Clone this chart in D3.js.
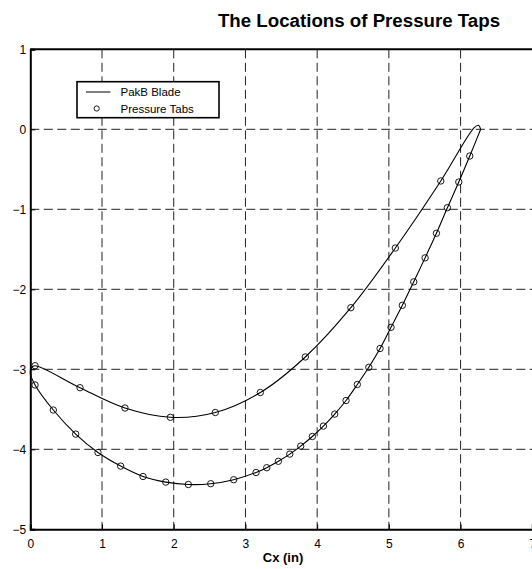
<!DOCTYPE html>
<html><head><meta charset="utf-8">
<script src="https://cdn.jsdelivr.net/npm/d3@7"></script>
<style>
html,body{margin:0;padding:0;background:#fff;overflow:hidden;}
svg{display:block;font-family:"Liberation Sans",Arial,Helvetica,sans-serif;}
</style></head>
<body><svg id="chart" width="532" height="569"></svg>
<script>
// ---- data ----
const title = "The Locations of Pressure Taps";
const xLabel = "Cx (in)";
const xTicks = [0, 1, 2, 3, 4, 5, 6, 7];
const yTicks = [1, 0, -1, -2, -3, -4, -5];
const legendLabels = ["PakB Blade", "Pressure Tabs"];

// blade profile (suction side TE->LE, then pressure side LE->TE)
const bladeX = [6.28, 6.25, 6.19, 5.724, 5.09, 4.47, 3.835, 3.208, 2.58, 1.953, 1.32, 0.693, 0.066, 0.015, 0.0,
  0.066, 0.321, 0.633, 0.944, 1.26, 1.572, 1.889, 2.204, 2.516, 2.836, 3.148, 3.297, 3.459, 3.618, 3.771, 3.933,
  4.087, 4.245, 4.403, 4.56, 4.72, 4.877, 5.03, 5.188, 5.347, 5.505, 5.663, 5.816, 5.975, 6.128, 6.28];
const bladeY = [0.0, 0.05, 0.02, -0.646, -1.484, -2.23, -2.846, -3.29, -3.54, -3.60, -3.484, -3.23, -2.955, -2.98, -3.05,
  -3.196, -3.509, -3.81, -4.04, -4.21, -4.34, -4.41, -4.44, -4.43, -4.38, -4.29, -4.23, -4.15, -4.06, -3.96, -3.84,
  -3.71, -3.56, -3.39, -3.19, -2.975, -2.74, -2.475, -2.2, -1.907, -1.607, -1.30, -0.98, -0.659, -0.334, 0.0];

// pressure tap locations
const tapUpperX = [0.066, 0.693, 1.32, 1.953, 2.58, 3.208, 3.835, 4.47, 5.09, 5.724];
const tapUpperY = [-2.955, -3.23, -3.484, -3.60, -3.54, -3.29, -2.846, -2.23, -1.484, -0.646];
const tapLowerX = [0.066, 0.321, 0.633, 0.944, 1.26, 1.572, 1.889, 2.204, 2.516, 2.836, 3.148, 3.297, 3.459, 3.618,
  3.771, 3.933, 4.087, 4.245, 4.403, 4.56, 4.72, 4.877, 5.03, 5.188, 5.347, 5.505, 5.663, 5.816, 5.975, 6.128];
const tapLowerY = [-3.196, -3.509, -3.81, -4.04, -4.21, -4.34, -4.41, -4.44, -4.43, -4.38, -4.29, -4.23, -4.15, -4.06,
  -3.96, -3.84, -3.71, -3.56, -3.39, -3.19, -2.975, -2.74, -2.475, -2.2, -1.907, -1.607, -1.30, -0.98, -0.659, -0.334];

// ---- layout ----
const svg = d3.select("#chart");
const L = 30.3, R = 532.3, T = 49.3, B = 529.3;
const x = d3.scaleLinear().domain([0, 7]).range([L, R]);
const y = d3.scaleLinear().domain([-5, 1]).range([B, T]);

// grid
const grid = svg.append("g").attr("stroke", "#222").attr("stroke-width", 1).attr("stroke-dasharray", "9,4.5").attr("fill", "none");
xTicks.filter(v => v > 0 && v < 7).forEach(v => {
  grid.append("line").attr("x1", x(v)).attr("x2", x(v)).attr("y1", T).attr("y2", B);
});
yTicks.filter(v => v < 1 && v > -5).forEach(v => {
  grid.append("line").attr("x1", L).attr("x2", R).attr("y1", y(v)).attr("y2", y(v));
});

// axes
const xAxis = d3.axisBottom(x).tickValues(xTicks).tickSize(-5).tickPadding(9).tickFormat(d3.format("d"));
const yAxis = d3.axisLeft(y).tickValues(yTicks).tickSize(-5).tickPadding(9).tickFormat(d => d < 0 ? "\u2212" + Math.abs(d) : d);
const gx = svg.append("g").attr("transform", `translate(0,${B})`).call(xAxis);
const gy = svg.append("g").attr("transform", `translate(${L},0)`).call(yAxis);
[gx, gy].forEach(g => {
  g.select(".domain").attr("stroke", "#000").attr("stroke-width", 2);
  g.selectAll(".tick line").attr("stroke", "#000").attr("stroke-width", 1);
  g.selectAll(".tick text").attr("fill", "#000").attr("font-size", 12).attr("font-family", "Liberation Sans, Arial, sans-serif");
});
gx.selectAll(".tick text").attr("dy", "0.71em").attr("y", 10);
gy.selectAll(".tick text").attr("x", -4);
// top border
svg.append("line").attr("x1", L).attr("x2", R).attr("y1", T).attr("y2", T).attr("stroke", "#000").attr("stroke-width", 2);

// blade line
const bladePts = bladeX.map((v, i) => [v, bladeY[i]]);
const line = d3.line().x(d => x(d[0])).y(d => y(d[1])).curve(d3.curveCatmullRom.alpha(0.5));
svg.append("path").datum(bladePts).attr("d", line).attr("fill", "none").attr("stroke", "#000").attr("stroke-width", 1.1);

// taps
const taps = tapUpperX.map((v, i) => [v, tapUpperY[i]]).concat(tapLowerX.map((v, i) => [v, tapLowerY[i]]));
svg.append("g").selectAll("circle").data(taps).join("circle")
  .attr("cx", d => x(d[0])).attr("cy", d => y(d[1])).attr("r", 3.2)
  .attr("fill", "none").attr("stroke", "#000").attr("stroke-width", 0.9);

// legend
const lg = svg.append("g");
lg.append("rect").attr("x", 77).attr("y", 81.7).attr("width", 142).attr("height", 36)
  .attr("fill", "#fff").attr("stroke", "#000").attr("stroke-width", 1.6);
lg.append("line").attr("x1", 86).attr("x2", 110.5).attr("y1", 92).attr("y2", 92).attr("stroke", "#000").attr("stroke-width", 1);
lg.append("circle").attr("cx", 96.7).attr("cy", 108.5).attr("r", 2.6).attr("fill", "none").attr("stroke", "#000").attr("stroke-width", 0.9);
lg.append("text").attr("x", 120.5).attr("y", 96).attr("font-size", 11.5).text(legendLabels[0]);
lg.append("text").attr("x", 120.5).attr("y", 112.5).attr("font-size", 11.5).text(legendLabels[1]);

// title and x label
svg.append("text").attr("x", 359).attr("y", 27).attr("text-anchor", "middle")
  .attr("font-size", 18.7).attr("font-weight", "bold").text(title);
svg.append("text").attr("x", 283).attr("y", 562).attr("text-anchor", "middle")
  .attr("font-size", 13).attr("font-weight", "bold").text(xLabel);
</script></body></html>
